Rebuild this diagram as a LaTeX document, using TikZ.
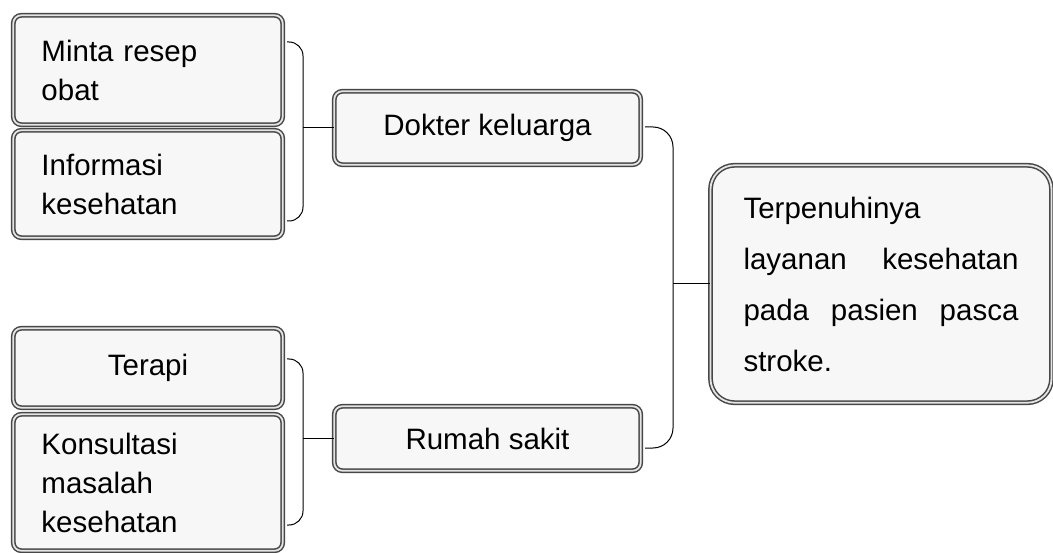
\documentclass[tikz,border=0pt]{standalone}
\usepackage{fontspec}
\setmainfont{Liberation Sans}
\begin{document}
\begin{tikzpicture}[x=1pt,y=-1pt,
  box/.style={draw=black!72, double=white!90!black, line width=1.5pt,
    double distance=1.8pt, fill=white!97!black, rounded corners=8pt,
    inner ysep=0pt, font=\fontsize{29.5}{39}\selectfont},
  leftbox/.style={box, minimum width=269.4pt, inner xsep=28pt,
    text width=213pt, align=left},
  midbox/.style={box, minimum width=306.4pt, align=center},
  conn/.style={draw=black, line width=1pt}]
\useasboundingbox (0,0) rectangle (1053,553);

% left column
\node[leftbox, minimum height=109.4pt] (b1) at (148,70) {Minta resep\\obat};
\node[leftbox, minimum height=107.4pt] (b2) at (148,184) {Informasi\\kesehatan};
\node[leftbox, minimum height=79.4pt, align=center] (ter) at (148,368) {Terapi\\[-3pt]};
\node[leftbox, minimum height=136.4pt] (kon) at (148,482.5) {Konsultasi\\masalah\\kesehatan};

% middle column
\node[midbox, minimum height=73.4pt] (dok) at (487.5,128) {Dokter keluarga};
\node[midbox, minimum height=64.4pt] (rum) at (487.5,438.5) {Rumah sakit};

% result box, justified text
\node[box, rounded corners=24pt, minimum width=337.4pt, minimum height=237.4pt,
  inner xsep=33pt, text width=275pt, align=left,
  font=\fontsize{29.5}{51}\selectfont] (big) at (881,284)
  {Terpenuhinya\\
   \makebox[275pt][l]{layanan\hfill kesehatan}\\
   \makebox[275pt][l]{pada\hfill pasien\hfill pasca}\\
   stroke.};

% brace joining the upper pair
\coordinate (u1) at (287,42);
\coordinate (u2) at (287,221);
\coordinate (ux) at (303,128);
\draw[conn, rounded corners=14pt] (u1) -- (u1 -| ux) -- (u2 -| ux) -- (u2);
\draw[conn] (dok.west -| ux) -- (dok.west);

% brace joining the lower pair
\coordinate (l1) at (287,359);
\coordinate (l2) at (287,525);
\coordinate (lx) at (303,439);
\draw[conn, rounded corners=14pt] (l1) -- (l1 -| lx) -- (l2 -| lx) -- (l2);
\draw[conn] (rum.west -| lx) -- (rum.west);

% brace joining the two services to the result
\coordinate (r1) at (645,127);
\coordinate (r2) at (645,448);
\coordinate (rx) at (673,284);
\draw[conn, rounded corners=20pt] (r1) -- (r1 -| rx) -- (r2 -| rx) -- (r2);
\draw[conn] (rx) -- (big.west);
\end{tikzpicture}
\end{document}
